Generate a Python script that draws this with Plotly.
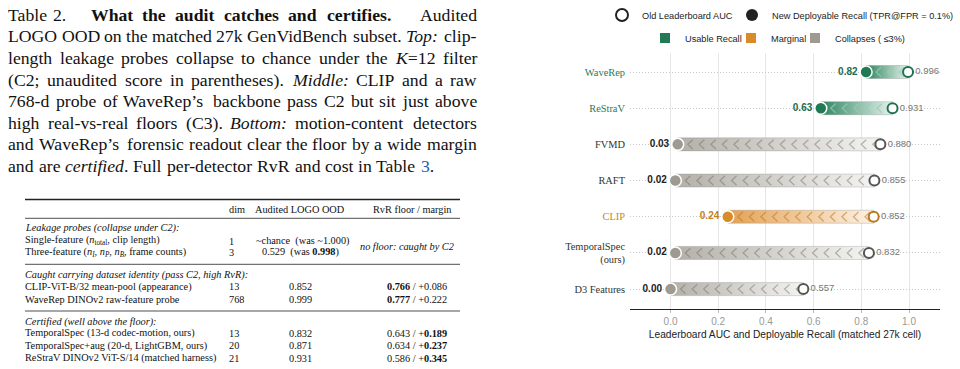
import plotly.graph_objects as go

W, H = 960, 369

# ---------------- data ----------------
detectors = ["WaveRep", "ReStraV", "FVMD", "RAFT", "CLIP", "TemporalSpec<br>(ours)", "D3 Features"]
recall = [0.82, 0.63, 0.03, 0.02, 0.24, 0.02, 0.00]
auc = [0.996, 0.931, 0.880, 0.855, 0.852, 0.832, 0.557]
status = ["usable", "usable", "collapse", "collapse", "marginal", "collapse", "collapse"]
x_ticks = [0.0, 0.2, 0.4, 0.6, 0.8, 1.0]

legend_row1 = ["Old Leaderboard AUC", "New Deployable Recall (TPR@FPR = 0.1%)"]
legend_row2 = {"usable": "Usable Recall", "marginal": "Marginal", "collapse": "Collapses ( ≤3%)"}

# ---------------- styles ----------------
PAL = {
    "usable":   dict(label="#2d7a5a", dot="#1f7a55", ring="#1f7252", val="#1f6b4b",
                     g0="#2f8561", g1="#e6f2ec", chev="rgba(150,205,180,0.75)", sq="#1f7a55"),
    "marginal": dict(label="#c8862a", dot="#d98b2a", ring="#b8791c", val="#c47f22",
                     g0="#e4a254", g1="#fcf1e4", chev="rgba(190,120,40,0.55)", sq="#d98b2a"),
    "collapse": dict(label="#333333", dot="#9e9a92", ring="#555555", val="#222222",
                     g0="#b3b0a9", g1="#f3f3f1", chev="rgba(110,105,95,0.45)", sq="#9e9a92"),
}
SANS = "Liberation Sans, Arial, sans-serif"
SERIF = "Liberation Serif, Times New Roman, serif"

def px(x):
    return x / W

def py(y):
    return 1 - y / H

fig = go.Figure()

n = len(detectors)
rows = list(range(n))
HB = 0.18  # half band height (category units)

# bands with gradient
for i in rows:
    p = PAL[status[i]]
    r, a = recall[i], auc[i]
    fig.add_trace(go.Scatter(
        x=[r, a, a, r, r], y=[i - HB, i - HB, i + HB, i + HB, i - HB],
        mode="lines", fill="toself",
        fillgradient=dict(type="horizontal", colorscale=[[0, p["g0"]], [1, p["g1"]]]),
        line=dict(color="rgba(120,120,115,0.35)", width=0.8),
        hoverinfo="skip", showlegend=False))

# chevrons
for i in rows:
    p = PAL[status[i]]
    r, a = recall[i], auc[i]
    xs, ys = [], []
    t = r + 0.042
    while t < a - 0.028:
        xs += [t + 0.021, t, t + 0.021, None]
        ys += [i - 0.13, i, i + 0.13, None]
        t += 0.0485
    fig.add_trace(go.Scatter(x=xs, y=ys, mode="lines",
                             line=dict(color=p["chev"], width=1.3),
                             hoverinfo="skip", showlegend=False))

# AUC markers (open)
fig.add_trace(go.Scatter(
    x=auc, y=rows, mode="markers+text",
    marker=dict(size=10, color="white", line=dict(color=[PAL[s]["ring"] for s in status], width=2)),
    text=[f"{v:.3f}" for v in auc], textposition="middle right",
    textfont=dict(family=SANS, size=9.5, color="#777777"),
    hoverinfo="skip", showlegend=False))

# Recall markers (filled)
fig.add_trace(go.Scatter(
    x=recall, y=rows, mode="markers+text",
    marker=dict(size=12, color=[PAL[s]["dot"] for s in status], line=dict(color="white", width=1.5)),
    text=[f"{v:.2f}" for v in recall], textposition="middle left",
    textfont=dict(family=SANS, size=10, color=[PAL[s]["val"] for s in status], weight="bold"),
    hoverinfo="skip", showlegend=False))

# legend entries: one legend per entry so each can be placed like the reference
LEG_FONT = dict(family=SANS, size=9.2, color="#222222")
leg_items = [
    (legend_row1[0], dict(size=12, color="white", line=dict(color="#222222", width=2)), 622, 15),
    (legend_row1[1], dict(size=12, color="#222222"), 752, 15),
    (legend_row2["usable"], dict(size=10, symbol="square", color=PAL["usable"]["sq"]), 665, 38),
    (legend_row2["marginal"], dict(size=10, symbol="square", color=PAL["marginal"]["sq"]), 751, 38),
    (legend_row2["collapse"], dict(size=10, symbol="square", color=PAL["collapse"]["sq"]), 815, 38),
]
legend_layout = {}
for k, (name, mk, sx, sy) in enumerate(leg_items):
    lname = "legend" if k == 0 else f"legend{k + 1}"
    fig.add_trace(go.Scatter(x=[None], y=[None], mode="markers", name=name, marker=mk, legend=lname))
    legend_layout[lname] = dict(orientation="h", x=px(sx - 20), xanchor="left", y=py(sy), yanchor="middle",
                                font=LEG_FONT, bgcolor="rgba(0,0,0,0)", borderwidth=0)

ticktext = [f"<span style='color:{PAL[s]['label']}'>{d}</span>" for d, s in zip(detectors, status)]

x0_px, x1_px = 630, 940
top_px, bot_px = 53, 309

fig.update_layout(
    width=W, height=H, margin=dict(l=0, r=0, t=0, b=0, autoexpand=False),
    paper_bgcolor="white", plot_bgcolor="white",
    xaxis=dict(domain=[px(x0_px), px(x1_px)], range=[-0.170, 1.130], automargin=False,
               tickvals=x_ticks, tickformat=".1f",
               showgrid=True, gridcolor="#e6e6e6", gridwidth=1, zeroline=False,
               showline=True, linecolor="#222222", linewidth=1.2,
               ticks="outside", ticklen=3, tickcolor="#bbbbbb",
               tickfont=dict(family=SANS, size=10, color="#999999"),
               title=dict(text="Leaderboard AUC and Deployable Recall (matched 27k cell)",
                          font=dict(family=SANS, size=10.2, color="#222222"), standoff=4)),
    yaxis=dict(domain=[py(bot_px), py(top_px)], range=[6.55, -0.525], automargin=False,
               tickvals=rows, ticktext=ticktext, ticks="", ticklabelstandoff=4,
               showgrid=True, gridcolor="#c8c8c8", griddash="1px,2px", gridwidth=1,
               zeroline=False, showline=False,
               tickfont=dict(family=SERIF, size=10.4, color="#333333")),
    **legend_layout,
)

# ---------------- left side: caption (justified) ----------------
# Times / Liberation Serif advance widths (1/1000 em)
_R = dict(zip(" !()+,-./:;=’", [250, 333, 333, 333, 564, 250, 333, 250, 278, 278, 278, 564, 333]))
_R.update({d: 500 for d in "0123456789"})
_R.update(dict(zip("ABCDEFGHIJKLMNOPQRSTUVWXYZ",
                   [722, 667, 667, 722, 611, 556, 722, 722, 333, 389, 722, 611, 889, 722, 722, 556, 722,
                    667, 556, 611, 722, 722, 944, 722, 722, 611])))
_R.update(dict(zip("abcdefghijklmnopqrstuvwxyz",
                   [444, 500, 444, 500, 444, 333, 500, 500, 278, 278, 500, 278, 778, 500, 500, 500, 500,
                    333, 389, 278, 500, 500, 722, 500, 500, 444])))
_I = dict(_R)
_I.update({"T": 556, "M": 833, "B": 611, "K": 667, "m": 722, "r": 389, "f": 278, ":": 333})
_B = dict(_R)
_B.update({"W": 1000, "h": 556, "a": 500, "t": 333, "u": 556, "d": 556, "n": 556, "r": 444,
           "e": 444, "c": 444, "s": 389, "i": 278, "f": 333})
WID = {"r": _R, "i": _I, "b": _B, "link": _R}

CAP = 17.7
caption_lines = [
    ["Table", "2.", ("What", "b"), ("the", "b"), ("audit", "b"), ("catches", "b"), ("and", "b"),
     ("certifies.", "b"), "Audited"],
    ["LOGO", "OOD", "on", "the", "matched", "27k", "GenVidBench", "subset.", ("Top:", "i"), "clip-"],
    ["length", "leakage", "probes", "collapse", "to", "chance", "under", "the", [("K", "i"), ("=12", "r")],
     "filter"],
    ["(C2;", "unaudited", "score", "in", "parentheses).", ("Middle:", "i"), "CLIP", "and", "a", "raw"],
    ["768-d", "probe", "of", "WaveRep’s", "backbone", "pass", "C2", "but", "sit", "just", "above"],
    ["high", "real-vs-real", "floors", "(C3).", ("Bottom:", "i"), "motion-content", "detectors"],
    ["and", "WaveRep’s", "forensic", "readout", "clear", "the", "floor", "by", "a", "wide", "margin"],
    ["and", "are", [("certified", "i"), (".", "r")], "Full", "per-detector", "RvR", "and", "cost", "in",
     "Table", [("3", "link"), (".", "r")]],
]

def segs(word):
    if isinstance(word, str):
        return [(word, "r")]
    if isinstance(word, tuple):
        return [word]
    return word

def seg_width(sg):
    return sum(WID[s].get(ch, 500) for t, s in sg for ch in t) / 1000 * CAP * 1.01

def seg_html(sg):
    out = ""
    for t, s in sg:
        if s == "i":
            out += f"<i>{t}</i>"
        elif s == "b":
            out += f"<b>{t}</b>"
        elif s == "link":
            out += f"<span style='color:#2a5db0'>{t}</span>"
        else:
            out += t
    return out

ann = []
def word_ann(html, x, y, anchor="left", size=CAP):
    ann.append(dict(text=html, x=px(x), y=py(y), xref="paper", yref="paper", xanchor=anchor,
                    yanchor="middle", showarrow=False, borderpad=0, borderwidth=0,
                    font=dict(family=SERIF, size=size, color="#111111")))

LEFT, RIGHT = 8.3, 476.5

def place_justified(words, x_start, x_end, y, flush_right=True):
    sgs = [segs(w) for w in words]
    widths = [seg_width(s) for s in sgs]
    if flush_right and len(words) > 1:
        gap = (x_end - x_start - sum(widths)) / (len(words) - 1)
    else:
        gap = CAP * 0.25
    x = x_start
    for k, (s, w) in enumerate(zip(sgs, widths)):
        if flush_right and k == len(words) - 1 and len(words) > 1:
            word_ann(seg_html(s), x_end, y, "right")
        else:
            word_ann(seg_html(s), x, y, "left")
        x += w + gap

for k, words in enumerate(caption_lines):
    yc = 14.8 + 21.6 * k
    if k == 0:
        place_justified(words[:2], LEFT, LEFT, yc, flush_right=False)
        place_justified(words[2:8], 90.7, 391, yc)
        word_ann(seg_html(segs(words[8])), RIGHT, yc, "right")
    elif k == len(caption_lines) - 1:
        place_justified(words, LEFT, RIGHT, yc, flush_right=False)
    else:
        place_justified(words, LEFT, RIGHT, yc)

# ---------------- left side: table ----------------
TB = 10.3
def tb(text, x, y, anchor="left"):
    ann.append(dict(text=text, x=px(x), y=py(y), xref="paper", yref="paper", xanchor=anchor,
                    yanchor="middle", showarrow=False, borderpad=0, borderwidth=0,
                    font=dict(family=SERIF, size=TB, color="#111111")))

tb("dim", 229, 209); tb("Audited LOGO OOD", 300, 209, "center"); tb("RvR floor / margin", 412, 209, "center")
tb("<i>Leakage probes (collapse under C2):</i>", 25, 228.3)
tb("Single-feature (<i>n</i><sub>total</sub>, clip length)", 25, 240.3)
tb("1", 229, 241); tb("~chance  (was ~1.000)", 302, 241, "center")
tb("Three-feature (<i>n<sub>I</sub></i>, <i>n<sub>P</sub></i>, <i>n<sub>B</sub></i>, frame counts)", 25, 253)
tb("3", 229, 252.3); tb("0.529  (was <b>0.998</b>)", 300, 252.3, "center")
tb("<i>no floor: caught by C2</i>", 407, 246.7, "center")
tb("<i>Caught carrying dataset identity (pass C2, high RvR):</i>", 25, 275)
tb("CLIP-ViT-B/32 mean-pool (appearance)", 25, 286.7); tb("13", 229, 286.7)
tb("0.852", 300, 286.7, "center"); tb("<b>0.766</b> / +0.086", 417, 286.7, "center")
tb("WaveRep DINOv2 raw-feature probe", 25, 299.3); tb("768", 229, 299.3)
tb("0.999", 300, 299.3, "center"); tb("<b>0.777</b> / +0.222", 417, 299.3, "center")
tb("<i>Certified (well above the floor):</i>", 25, 321.8)
tb("TemporalSpec (13-d codec-motion, ours)", 25, 333.2); tb("13", 229, 333.2)
tb("0.832", 300, 333.2, "center"); tb("0.643 / +<b>0.189</b>", 417, 333.2, "center")
tb("TemporalSpec+aug (20-d, LightGBM, ours)", 25, 345.7); tb("20", 229, 345.7)
tb("0.871", 300, 345.7, "center"); tb("0.634 / +<b>0.237</b>", 417, 345.7, "center")
tb("ReStraV DINOv2 ViT-S/14 (matched harness)", 25, 358.3); tb("21", 229, 358.3)
tb("0.931", 300, 358.3, "center"); tb("0.586 / +<b>0.345</b>", 417, 358.3, "center")

shapes = []
for yy, w in [(199.5, 1.3), (218.3, 0.8), (264.3, 0.8), (311, 0.8)]:
    shapes.append(dict(type="line", xref="paper", yref="paper", x0=px(25), x1=px(460),
                       y0=py(yy), y1=py(yy), line=dict(color="#222222", width=w)))

fig.update_layout(annotations=ann, shapes=shapes)

fig.write_html("out.html")
